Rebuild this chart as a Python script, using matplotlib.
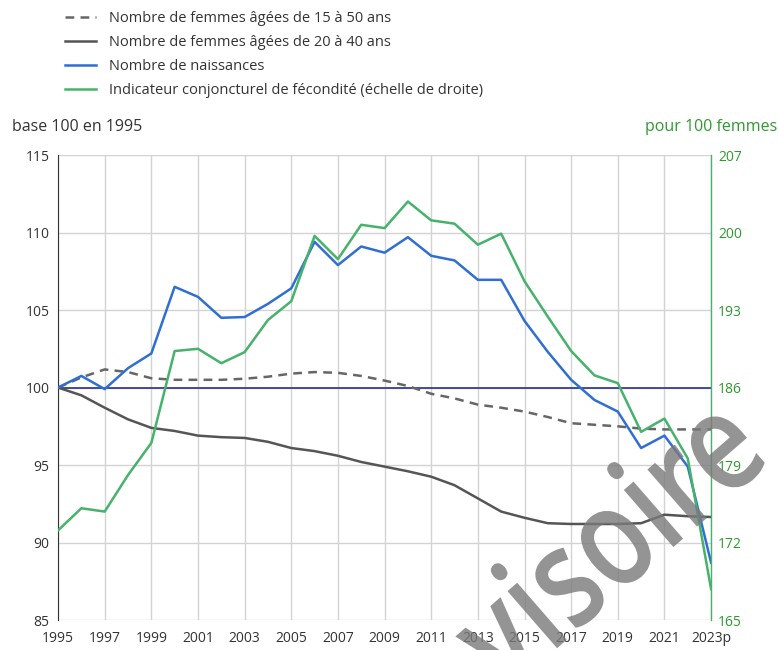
import matplotlib.pyplot as plt
from matplotlib.textpath import TextPath
from matplotlib.patches import PathPatch
from matplotlib.font_manager import FontProperties
from matplotlib.transforms import Affine2D

plt.rcParams['font.family'] = ['Open Sans', 'DejaVu Sans']

years = list(range(1995, 2024))
xlabels = [str(y) for y in range(1995, 2023, 2)] + ["2023p"]

# base 100 en 1995
femmes_15_50 = [100, 100.65, 101.17, 101.0, 100.6, 100.5, 100.5, 100.5, 100.57, 100.7,
                100.9, 101.0, 100.95, 100.75, 100.45, 100.1, 99.6, 99.3, 98.9, 98.7,
                98.45, 98.1, 97.7, 97.6, 97.5, 97.35, 97.3, 97.3, 97.3]
femmes_20_40 = [100, 99.5, 98.7, 97.95, 97.4, 97.2, 96.9, 96.8, 96.75, 96.5,
                96.1, 95.9, 95.6, 95.2, 94.9, 94.6, 94.25, 93.7, 92.85, 92.0,
                91.6, 91.25, 91.2, 91.2, 91.2, 91.25, 91.8, 91.7, 91.65]
naissances = [100, 100.75, 99.9, 101.25, 102.2, 106.5, 105.85, 104.5, 104.55, 105.4,
              106.4, 109.4, 107.9, 109.1, 108.7, 109.7, 108.5, 108.2, 106.95, 106.95,
              104.3, 102.3, 100.5, 99.2, 98.45, 96.1, 96.9, 94.9, 88.7]
# pour 100 femmes (right axis)
icf = [173.1, 175.1, 174.8, 178.1, 181.0, 189.3, 189.5, 188.2, 189.2, 192.1,
       193.8, 199.7, 197.6, 200.7, 200.4, 202.8, 201.1, 200.8, 198.9, 199.9,
       195.6, 192.4, 189.3, 187.1, 186.4, 182.0, 183.2, 179.6, 167.8]

c_blue = "#2f6fd3"
c_green = "#46b26b"
c_dark = "#555555"
c_dash = "#666666"
c_green_txt = "#2e9a2e"

fig = plt.figure(figsize=(7.78, 6.5), dpi=100)
ax = fig.add_axes([0.0746, 0.046, 0.914 - 0.0746, 0.7615 - 0.046])
ax2 = ax.twinx()

ax.axhline(100, color="#2b2f8f", lw=1.2, zorder=2)
l1, = ax.plot(years, femmes_15_50, color=c_dash, lw=1.8, ls=(0, (3.5, 2.5)), zorder=3)
l2, = ax.plot(years, femmes_20_40, color=c_dark, lw=1.8, zorder=3)
l3, = ax.plot(years, naissances, color=c_blue, lw=1.8, zorder=3)
l4, = ax2.plot(years, icf, color=c_green, lw=1.8, zorder=3)

ax.set_xlim(1995, 2023)
ax.set_ylim(85, 115)
ax2.set_ylim(165, 207)
ax.set_yticks(range(85, 116, 5))
ax2.set_yticks(range(165, 208, 7))
ax.set_xticks(range(1995, 2024, 2))
ax.set_xticklabels(xlabels)

ax.grid(True, color="#d3d3d3", lw=1)
ax.set_axisbelow(True)
for s in ["top", "bottom", "right"]:
    ax.spines[s].set_visible(False)
for s in ["top", "bottom", "left"]:
    ax2.spines[s].set_visible(False)
ax.spines["left"].set_color("#333333")
ax2.spines["right"].set_color(c_green)
ax2.spines["right"].set_linewidth(1.0)

ax.tick_params(axis="both", length=0, labelsize=10, labelcolor="#333333", pad=6)
ax.tick_params(axis="x", pad=8)
ax2.tick_params(axis="y", length=0, labelsize=10, labelcolor=c_green_txt, pad=5)

fig.text(12 / 778, 1 - 127 / 650, "base 100 en 1995", fontsize=11.5, color="#333333",
         ha="left", va="center")
fig.text(777 / 778, 1 - 127 / 650, "pour 100 femmes", fontsize=11.5, color=c_green_txt,
         ha="right", va="center")

fig.legend([l1, l2, l3, l4],
           ["Nombre de femmes âgées de 15 à 50 ans",
            "Nombre de femmes âgées de 20 à 40 ans",
            "Nombre de naissances",
            "Indicateur conjoncturel de fécondité (échelle de droite)"],
           loc="upper left", bbox_to_anchor=(0.072, 0.998), frameon=False,
           fontsize=10.5, handlelength=2.1, handletextpad=0.9, labelspacing=0.62,
           labelcolor="#333333", borderaxespad=0.25)

# watermark, drawn as a path so it can be narrowed a bit
em = 140
tp = TextPath((0, 0), "Provisoire", size=1,
              prop=FontProperties(family="Open Sans", weight="semibold"))
ext = tp.get_extents()
wm_tr = (Affine2D().translate(-(ext.x0 + ext.x1) / 2, -0.27)
         .scale(em * 0.8, em).rotate_deg(41).translate(548, 44))
fig.add_artist(PathPatch(tp, transform=wm_tr, facecolor="#7a7a7a", edgecolor="none",
                         alpha=0.8, zorder=5))

fig.savefig("out.png", dpi=100)
